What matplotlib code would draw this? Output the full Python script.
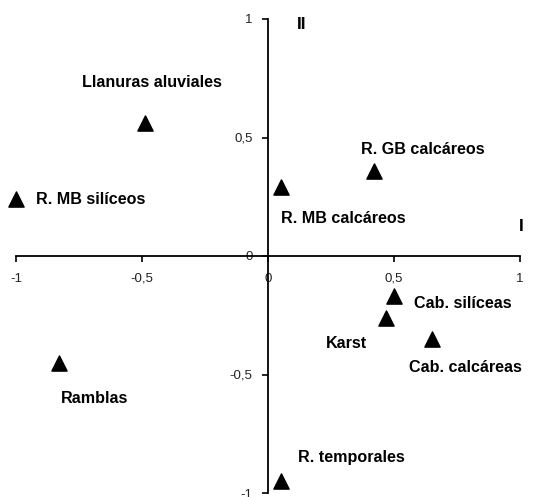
import matplotlib.pyplot as plt
from matplotlib.ticker import FuncFormatter

plt.rcParams['font.family'] = ['Liberation Sans', 'DejaVu Sans']

# site types and factor scores
names = ["Llanuras aluviales", "R. MB silíceos", "R. MB calcáreos", "R. GB calcáreos",
         "Cab. silíceas", "Karst", "Cab. calcáreas", "Ramblas", "R. temporales"]
x_vals = [-0.49, -1.0, 0.05, 0.42, 0.50, 0.47, 0.65, -0.83, 0.05]
y_vals = [0.56, 0.24, 0.29, 0.36, -0.17, -0.26, -0.35, -0.45, -0.95]
ticks = [-1, -0.5, 0, 0.5, 1]

# label offsets (data units) relative to each point
label_dx = [-0.25, 0.08, 0.0, -0.05, 0.08, -0.24, -0.09, 0.01, 0.07]
label_dy = [0.17, 0.0, -0.13, 0.09, -0.03, -0.11, -0.12, -0.15, 0.1]

fig = plt.figure(figsize=(5.41, 4.97), dpi=100)
ax = fig.add_axes([16 / 541, 4 / 497, 504 / 541, 474 / 497])

ax.scatter(x_vals, y_vals, marker="^", s=120, color="black", zorder=3, clip_on=False)
for n, x, y, dx, dy in zip(names, x_vals, y_vals, label_dx, label_dy):
    ax.text(x + dx, y + dy, n, fontsize=11.6, fontweight="bold", va="center", ha="left")

ax.text(0.135, 0.975, "II", fontsize=12.5, fontweight="bold", ha="center", va="center")
ax.text(1.005, 0.125, "I", fontsize=12.5, fontweight="bold", ha="center", va="center")

ax.set_xlim(-1, 1)
ax.set_ylim(-1, 1)
ax.spines["left"].set_position(("data", 0))
ax.spines["bottom"].set_position(("data", 0))
ax.spines["top"].set_visible(False)
ax.spines["right"].set_visible(False)
ax.spines["left"].set_linewidth(1.3)
ax.spines["bottom"].set_linewidth(1.3)
ax.set_xticks(ticks)
ax.set_yticks(ticks)
fmt = FuncFormatter(lambda v, p: ("%g" % v).replace(".", ","))
ax.xaxis.set_major_formatter(fmt)
ax.yaxis.set_major_formatter(fmt)
ax.tick_params(direction="out", length=4, width=1.2, labelsize=9.5, labelcolor="#222222")
ax.tick_params(axis="x", pad=8)
ax.tick_params(axis="y", pad=7)
ax.patch.set_alpha(0)

fig.savefig("out.png", dpi=100)
